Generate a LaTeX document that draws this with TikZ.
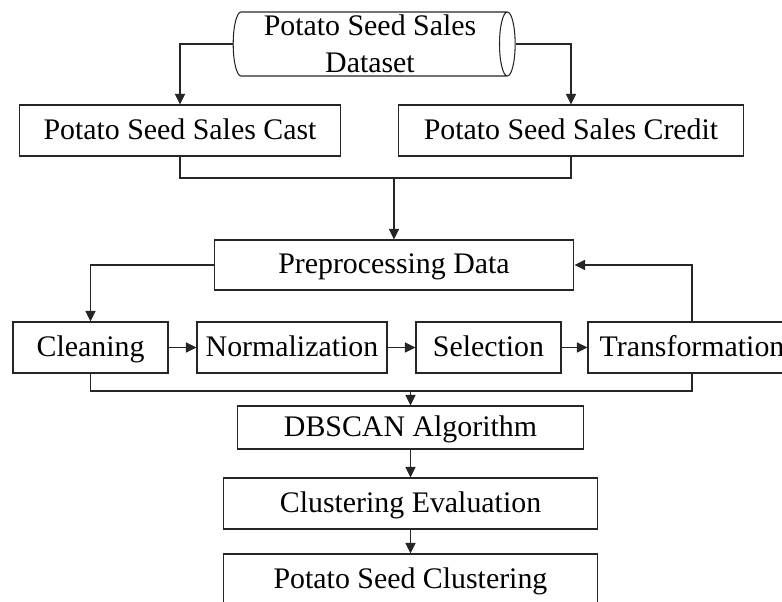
\documentclass[tikz,border=0pt]{standalone}
\usepackage{fontspec}
\setmainfont{Liberation Serif}
\usetikzlibrary{shapes.geometric,arrows.meta}

\begin{document}
\begin{tikzpicture}[x = 0.02cm, y = 0.02cm,
        box/.style = {draw = black!85, line width = 0.6pt, minimum height = 1.02cm, inner sep = 0pt, text height = 12pt, text depth = 1.8pt, font = \fontsize{17}{21}\selectfont},
        flow/.style = {draw = black!85, line width = 0.6pt, -{Triangle[length = 6pt, width = 5.8pt]}},
        link/.style = {draw = black!85, line width = 0.6pt}]
        \useasboundingbox (0, 0) rectangle (782, -602);
        \node (dataset) at (370, -44) [draw = black!85, line width = 0.6pt, cylinder, shape aspect = 0.27, inner sep = 0pt, minimum width = 1.28cm, minimum height = 5.64cm, align = center, font = \fontsize{17}{21}\selectfont] {Potato Seed Sales\\Dataset};
        \node (cast) at (180, -130.5) [box, minimum width = 6.44cm] {Potato Seed Sales Cast};
        \node (credit) at (571, -130.5) [box, minimum width = 6.92cm] {Potato Seed Sales Credit};
        \node (prep) at (394, -265) [box, minimum width = 7.2cm, minimum height = 1cm] {Preprocessing Data};
        \node (clean) at (90.5, -347.5) [box, minimum width = 3.1cm] {Cleaning};
        \node (norm) at (292, -347.5) [box, minimum width = 3.8cm] {Normalization};
        \node (select) at (488.5, -347.5) [box, minimum width = 2.9cm] {Selection};
        \node (trans) at (692, -347.5) [box, minimum width = 4.16cm] {Transformation};
        \node (dbscan) at (410.5, -427.5) [box, minimum width = 6.92cm, minimum height = 0.86cm] {DBSCAN Algorithm};
        \node (eval) at (410.5, -503.5) [box, minimum width = 7.5cm] {Clustering Evaluation};
        \node (cluster) at (410.5, -579.5) [box, minimum width = 7.5cm] {Potato Seed Clustering};
        \coordinate (join1) at (394, -178);
        \coordinate (join2) at (410.5, -391);
        \draw[flow] (dataset.west) -| (cast.north);
        \draw[flow] (dataset.east) -| (credit.north);
        \draw[link] (cast.south) |- (join1) -| (credit.south);
        \draw[flow] (join1) -- (prep.north);
        \draw[flow] (prep.west) -| (clean.north);
        \draw[flow] (clean.east) -- (norm.west);
        \draw[flow] (norm.east) -- (select.west);
        \draw[flow] (select.east) -- (trans.west);
        \draw[flow] (trans.north) |- (prep.east);
        \draw[link] (clean.south) |- (join2) -| (trans.south);
        \draw[flow] (join2) -- (dbscan.north);
        \draw[flow] (dbscan.south) -- (eval.north);
        \draw[flow] (eval.south) -- (cluster.north);
    \end{tikzpicture}
\end{document}
